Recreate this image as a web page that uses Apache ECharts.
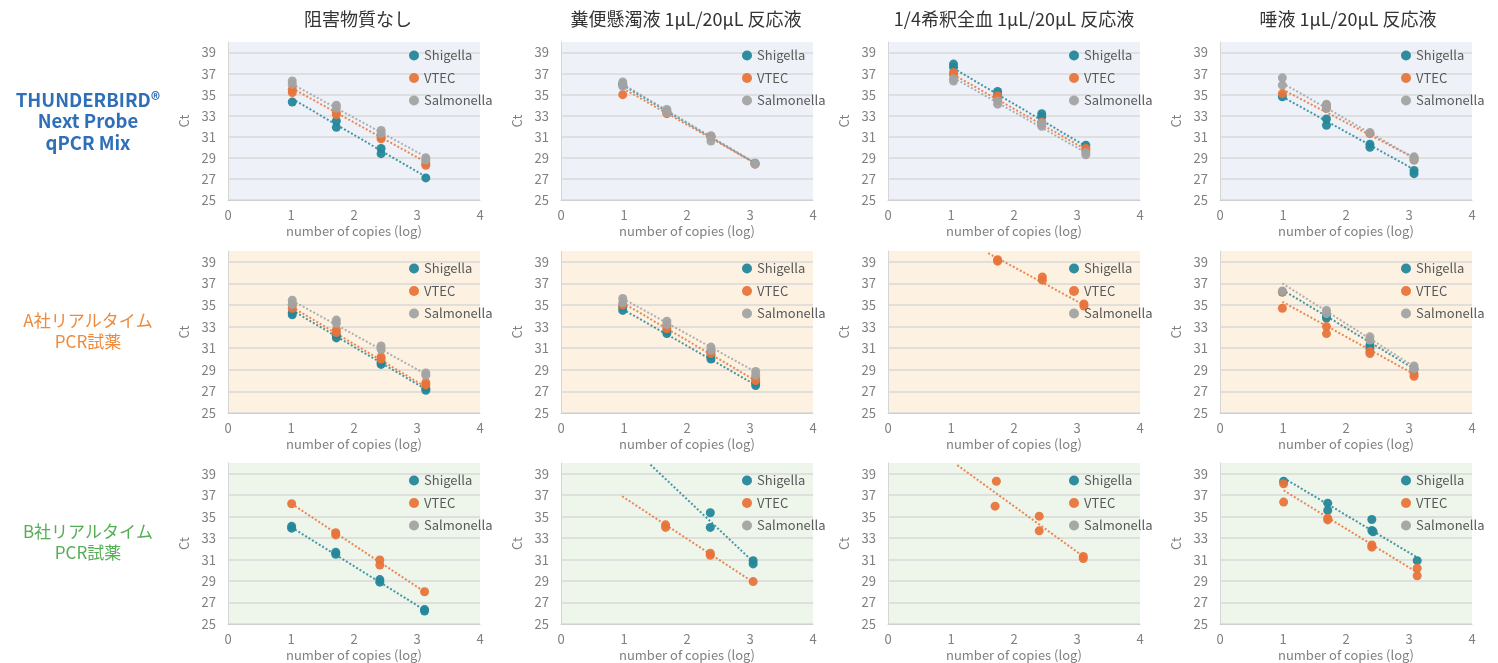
<!DOCTYPE html>
<html>
<head>
<meta charset="utf-8">
<script src="https://cdn.jsdelivr.net/npm/echarts@6/dist/echarts.min.js"></script>
<style>
  html, body { margin: 0; padding: 0; background: #fff; }
  #chart { width: 1498px; height: 663px; }
</style>
</head>
<body>
<div id="chart"></div>
<script>
// column / row headings
const colTitles = ['阻害物質なし', '糞便懸濁液 1μL/20μL 反応液', '1/4希釈全血 1μL/20μL 反応液', '唾液 1μL/20μL 反応液']
const rowLabels = ['THUNDERBIRD®\nNext Probe\nqPCR Mix', 'A社リアルタイム\nPCR試薬', 'B社リアルタイム\nPCR試薬']
const seriesNames = ['Shigella', 'VTEC', 'Salmonella']
const xAxisName = 'number of copies (log)'
const yAxisName = 'Ct'

// points per panel: [log copies, Ct], one entry per column
const row1Shigella = [
  [[1.02, 34.3], [1.72, 32.5], [1.72, 31.9], [2.43, 29.9], [2.43, 29.4], [3.14, 27.1]],
  [[0.98, 36.0], [1.68, 33.4], [2.38, 31.0], [3.08, 28.5]],
  [[1.04, 37.9], [1.04, 37.6], [1.74, 35.3], [1.74, 35.0], [2.44, 33.2], [2.44, 32.9], [3.14, 30.2]],
  [[0.99, 34.8], [1.69, 32.7], [1.69, 32.1], [2.38, 30.3], [2.38, 30.0], [3.08, 27.8], [3.08, 27.5]],
]
const row1Vtec = [
  [[1.02, 35.2], [1.02, 35.5], [1.72, 33.1], [1.72, 33.3], [2.43, 30.8], [2.43, 31.0], [3.14, 28.5], [3.14, 28.3]],
  [[0.98, 35.0], [1.68, 33.2], [2.38, 31.0], [3.08, 28.4]],
  [[1.04, 37.1], [1.04, 36.9], [1.74, 34.9], [1.74, 34.6], [2.44, 32.4], [2.44, 32.2], [3.14, 29.9], [3.14, 29.7]],
  [[0.99, 35.1], [1.69, 34.0], [1.69, 33.7], [2.38, 31.3], [3.08, 28.8], [3.08, 29.0]],
]
const row1Salmonella = [
  [[1.02, 36.3], [1.02, 36.0], [1.72, 34.0], [1.72, 33.7], [2.43, 31.6], [2.43, 31.3], [3.14, 29.0], [3.14, 28.8]],
  [[0.98, 36.2], [0.98, 35.8], [1.68, 33.6], [1.68, 33.3], [2.38, 31.1], [2.38, 30.6], [3.08, 28.5], [3.08, 28.4]],
  [[1.04, 36.5], [1.04, 36.3], [1.74, 34.4], [1.74, 34.1], [2.44, 32.3], [2.44, 32.0], [3.14, 29.5], [3.14, 29.3]],
  [[0.99, 36.6], [0.99, 35.9], [1.69, 34.1], [1.69, 33.7], [2.38, 31.4], [3.08, 29.1], [3.08, 28.8]],
]
const row2Shigella = [
  [[1.02, 34.1], [1.02, 34.3], [1.72, 31.95], [1.72, 32.2], [2.43, 29.5], [2.43, 29.7], [3.14, 27.1], [3.14, 27.3]],
  [[0.98, 34.5], [0.98, 34.8], [1.68, 32.35], [1.68, 32.6], [2.38, 30.0], [2.38, 30.3], [3.09, 27.55], [3.09, 27.8]],
  [],
  [[0.99, 36.2], [1.69, 33.8], [1.69, 34.0], [2.38, 31.27], [2.38, 31.0], [3.08, 29.05]],
]
const row2Vtec = [
  [[1.02, 34.7], [1.02, 35.0], [1.72, 32.45], [1.72, 32.7], [2.43, 30.0], [2.43, 30.2], [3.14, 27.6], [3.14, 27.8]],
  [[0.98, 35.0], [1.68, 32.8], [1.68, 33.1], [2.38, 30.5], [2.38, 30.7], [3.09, 28.0], [3.09, 28.2]],
  [[1.74, 39.06], [1.74, 39.2], [2.45, 37.6], [2.45, 37.3], [3.11, 35.1], [3.11, 34.9]],
  [[0.99, 36.2], [0.99, 34.7], [1.69, 33.0], [1.69, 32.35], [2.38, 30.7], [2.38, 30.5], [3.08, 28.65], [3.08, 28.4]],
]
const row2Salmonella = [
  [[1.02, 35.45], [1.02, 35.05], [1.72, 33.6], [1.72, 33.3], [2.43, 31.2], [2.43, 30.9], [3.14, 28.7], [3.14, 28.5]],
  [[0.98, 35.6], [0.98, 35.2], [1.68, 33.5], [1.68, 33.2], [2.38, 31.1], [2.38, 30.8], [3.09, 28.85], [3.09, 28.5]],
  [],
  [[0.99, 36.3], [1.69, 34.5], [1.69, 34.2], [2.38, 32.05], [2.38, 31.75], [3.08, 29.35], [3.08, 29.1]],
]
const row3Shigella = [
  [[1.01, 33.93], [1.01, 34.1], [1.71, 31.69], [1.71, 31.5], [2.41, 29.14], [2.41, 28.9], [3.12, 26.34], [3.12, 26.2]],
  [[2.37, 35.36], [2.37, 34.0], [3.05, 30.9], [3.05, 30.6]],
  [],
  [[1.01, 38.3], [1.71, 36.26], [1.71, 35.58], [2.41, 34.74], [2.41, 33.71], [2.43, 33.6], [3.13, 30.9]],
]
const row3Vtec = [
  [[1.01, 36.2], [1.71, 33.5], [1.71, 33.3], [2.41, 30.97], [2.41, 30.5], [3.12, 28.0]],
  [[1.66, 34.24], [1.66, 34.0], [2.37, 31.6], [2.37, 31.4], [3.05, 28.95]],
  [[1.72, 38.3], [1.70, 35.98], [2.40, 35.05], [2.40, 33.68], [3.10, 31.3], [3.10, 31.1]],
  [[1.01, 38.07], [1.01, 36.36], [1.71, 34.86], [1.71, 34.7], [2.41, 32.37], [2.41, 32.16], [3.13, 30.2], [3.13, 29.5]],
]
const row3Salmonella = [[], [], [], []]

// trend line end points per panel (null = no line)
const row1ShigellaTrend = [[[1.02, 34.6], [3.14, 27.2]], [[0.98, 35.9], [3.08, 28.5]], [[1.04, 37.5], [3.14, 30.1]], [[0.99, 34.8], [3.08, 27.9]]]
const row1VtecTrend = [[[1.02, 35.6], [3.14, 28.6]], [[0.98, 35.6], [3.08, 28.5]], [[1.04, 36.9], [3.14, 29.8]], [[0.99, 35.5], [3.08, 29.0]]]
const row1SalmonellaTrend = [[[1.02, 36.0], [3.14, 29.1]], [[0.98, 36.0], [3.08, 28.5]], [[1.04, 36.6], [3.14, 29.5]], [[0.99, 36.1], [3.08, 29.0]]]
const row2ShigellaTrend = [[[1.02, 34.5], [3.14, 27.2]], [[0.98, 34.6], [3.09, 27.6]], null, [[0.99, 36.4], [3.08, 29.1]]]
const row2VtecTrend = [[[1.02, 34.8], [3.14, 27.4]], [[0.98, 35.2], [3.09, 28.0]], [[1.59, 39.8], [3.11, 35.0]], [[0.99, 35.3], [3.08, 28.6]]]
const row2SalmonellaTrend = [[[1.02, 35.4], [3.14, 28.6]], [[0.98, 35.6], [3.09, 28.8]], null, [[0.99, 37.0], [3.08, 29.3]]]
const row3ShigellaTrend = [[[1.01, 34.0], [3.12, 26.3]], [[1.42, 39.84], [3.05, 30.8]], null, [[1.01, 38.6], [3.13, 31.2]]]
const row3VtecTrend = [[[1.01, 36.2], [3.12, 28.0]], [[0.97, 36.9], [3.05, 28.9]], [[1.10, 39.8], [3.10, 31.3]], [[1.01, 37.45], [3.13, 29.8]]]
const row3SalmonellaTrend = [null, null, null, null]

const points = [
  [row1Shigella, row1Vtec, row1Salmonella],
  [row2Shigella, row2Vtec, row2Salmonella],
  [row3Shigella, row3Vtec, row3Salmonella],
]
const trends = [
  [row1ShigellaTrend, row1VtecTrend, row1SalmonellaTrend],
  [row2ShigellaTrend, row2VtecTrend, row2SalmonellaTrend],
  [row3ShigellaTrend, row3VtecTrend, row3SalmonellaTrend],
]

// layout + look
const COL_LEFT = [228, 561, 888, 1220]
const PLOT_W   = 252
const ROW_TOP  = [42, 251, 463]
const ROW_H    = [158, 162, 161]
const LEGEND_DY = [2, 6, 6]
const ROW_BG   = ['#EEF2F8', '#FDF2E2', '#EEF5EB']
const ROW_LABEL_COLOR = ['#2E6FB7', '#EE8A3C', '#55AE55']
const SERIES_COLOR = ['#24879A', '#E8743B', '#A3A3A3']
const FONT = '"Noto Sans CJK JP", "Noto Sans", sans-serif'
const AXIS_TEXT = '#808080'
const GRID_LINE = '#D9D9D9'

const grids = [], xAxes = [], yAxes = [], legends = [], series = [], graphics = []

for (let r = 0; r < 3; r++) {
  for (let c = 0; c < 4; c++) {
    const idx = grids.length
    grids.push({
      left: COL_LEFT[c], top: ROW_TOP[r], width: PLOT_W, height: ROW_H[r],
      show: true, backgroundColor: ROW_BG[r], borderWidth: 0,
    })
    xAxes.push({
      gridIndex: idx, type: 'value', min: 0, max: 4, interval: 1,
      name: xAxisName, nameLocation: 'middle', nameGap: 25,
      nameTextStyle: { color: AXIS_TEXT, fontSize: 13, fontFamily: FONT },
      axisLine: { show: true, lineStyle: { color: '#D0D0D0', width: 1 } },
      axisTick: { show: false },
      axisLabel: { color: AXIS_TEXT, fontSize: 13, fontFamily: FONT, margin: 9 },
      splitLine: { show: false },
    })
    yAxes.push({
      gridIndex: idx, type: 'value', min: 25, max: 40, interval: 2,
      name: yAxisName, nameLocation: 'middle', nameGap: 37,
      nameTextStyle: { color: AXIS_TEXT, fontSize: 13, fontFamily: FONT },
      axisLine: { show: true, lineStyle: { color: '#D6D6D6', width: 1 } },
      axisTick: { show: false },
      axisLabel: { color: AXIS_TEXT, fontSize: 13, fontFamily: FONT, margin: 12, showMaxLabel: false },
      splitLine: { show: true, showMaxLine: false, lineStyle: { color: GRID_LINE, width: 1.5 } },
    })
    legends.push({
      orient: 'vertical', left: COL_LEFT[c] + 176, top: ROW_TOP[r] + LEGEND_DY[r],
      icon: 'circle', itemWidth: 10, itemHeight: 10, itemGap: 9.5,
      textStyle: { color: '#595959', fontSize: 13, fontFamily: FONT },
      data: seriesNames, selectedMode: false,
    })
    for (let s = 0; s < 3; s++) {
      const tr = trends[r][s][c]
      if (tr) {
        series.push({
          name: seriesNames[s] + ' trend', type: 'line', xAxisIndex: idx, yAxisIndex: idx,
          data: tr, symbol: 'none', silent: true, z: 1,
          lineStyle: { color: SERIES_COLOR[s], width: 2, type: [2, 2], opacity: 0.85 },
        })
      }
    }
    for (let s = 0; s < 3; s++) {
      series.push({
        name: seriesNames[s], type: 'scatter', xAxisIndex: idx, yAxisIndex: idx,
        data: points[r][s][c], symbolSize: 9, z: 2 + s,
        itemStyle: { color: SERIES_COLOR[s], opacity: 0.95 },
      })
    }
  }
}

const colCenters = [358, 686, 1014, 1348]
colTitles.forEach((t, c) => {
  graphics.push({
    type: 'text', x: colCenters[c], y: 19,
    style: { text: t, fill: '#333', font: '18px ' + FONT, textAlign: 'center', textVerticalAlign: 'middle' },
  })
})
const rowLabelY = [121, 331, 542]
rowLabels.forEach((t, r) => {
  graphics.push({
    type: 'text', x: 88, y: rowLabelY[r],
    style: {
      text: t, fill: ROW_LABEL_COLOR[r], textAlign: 'center', textVerticalAlign: 'middle',
      font: (r === 0 ? 'bold 18.5px ' : '17px ') + FONT, lineHeight: 21.5,
    },
  })
})

const chart = echarts.init(document.getElementById('chart'), null, { renderer: 'canvas' })
chart.setOption({
  animation: false,
  backgroundColor: '#fff',
  grid: grids, xAxis: xAxes, yAxis: yAxes, legend: legends,
  series, graphic: graphics,
})
</script>
</body>
</html>
